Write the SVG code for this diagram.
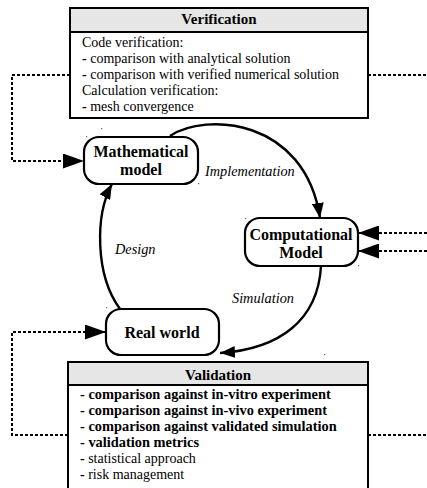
<svg xmlns="http://www.w3.org/2000/svg" width="427" height="488" viewBox="0 0 427 488">
<style>
.box{fill:#fff;stroke:#000;stroke-width:2}
.hdr{fill:#e6e6e6;stroke:#000;stroke-width:2}
.node{fill:#fff;stroke:#000;stroke-width:2.2}
text{font-family:'Liberation Serif','DejaVu Serif',serif}
.t{font-size:14px;fill:#000}
.b{font-weight:bold}
.vb{font-size:14.4px;font-weight:bold}
.h{font-size:15px;font-weight:bold;text-anchor:middle}
.n{font-size:16px;font-weight:bold;text-anchor:middle}
.i{font-size:14.3px;font-style:italic}
.arc{fill:none;stroke:#000;stroke-width:2.4}
.dash{fill:none;stroke:#000;stroke-width:2;stroke-dasharray:3 2}
.dot{fill:#666}
</style>
<defs>
<marker id="ah" markerUnits="userSpaceOnUse" markerWidth="16" markerHeight="12" refX="15" refY="6" orient="auto">
<path d="M0,0 L15,6 L0,12 Z" fill="#000" stroke="none"/>
</marker>
<marker id="dh" markerUnits="userSpaceOnUse" markerWidth="22" markerHeight="15" refX="21" refY="7.5" orient="auto">
<path d="M0,0 L21,7.5 L0,15 Z" fill="#000" stroke="none"/>
</marker>
</defs>

<g id="connectors">
<path class="arc" d="M170,136 C205,112 305,118 320,218" marker-end="url(#ah)"/>
<path class="arc" d="M321,266 C318,320 280,349 220,353" marker-end="url(#ah)"/>
<path class="arc" d="M120,309 C95,275 95,215 112,184" marker-end="url(#ah)"/>
<path class="dash" d="M70,75 H12 V161 H84" marker-end="url(#dh)"/>
<path class="dash" d="M368,75 H427"/>
<path class="dash" d="M427,233 H358" marker-end="url(#dh)"/>
<path class="dash" d="M427,251 H358" marker-end="url(#dh)"/>
<path class="dash" d="M68,435 H12 V332 H106" marker-end="url(#dh)"/>
<path class="dash" d="M368,435 H427"/>
<text class="i" x="205" y="176">Implementation</text>
<text class="i" x="115" y="254">Design</text>
<text class="i" x="232" y="303">Simulation</text>
</g>

<g id="verification">
<rect class="box" x="70" y="8" width="298" height="110"/>
<rect class="hdr" x="70" y="8" width="298" height="24"/>
<text class="h" x="219" y="24">Verification</text>
<text class="t" x="82" y="47">Code verification:</text>
<text class="t" x="82" y="63"><tspan class="b">-</tspan> comparison with analytical solution</text>
<text class="t" x="82" y="79"><tspan class="b">-</tspan> comparison with verified numerical solution</text>
<text class="t" x="82" y="95">Calculation verification:</text>
<text class="t" x="82" y="111"><tspan class="b">-</tspan> mesh convergence</text>
</g>

<g id="mathematical-model">
<rect class="node" x="84" y="137" width="114" height="47" rx="15"/>
<text class="n" x="141" y="157">Mathematical</text>
<text class="n" x="141" y="175">model</text>
</g>

<g id="computational-model">
<rect class="node" x="245" y="218" width="113" height="48" rx="15"/>
<text class="n" x="301" y="240">Computational</text>
<text class="n" x="301" y="258">Model</text>
</g>

<g id="real-world">
<rect class="node" x="106" y="309" width="113" height="46" rx="15"/>
<text class="n" x="162" y="338">Real world</text>
</g>

<g id="validation">
<rect class="box" x="68" y="362" width="300" height="130"/>
<rect class="hdr" x="68" y="362" width="300" height="23"/>
<text class="h" x="218" y="380">Validation</text>
<text class="vb" x="80" y="399">- comparison against in-vitro experiment</text>
<text class="vb" x="80" y="415">- comparison against in-vivo experiment</text>
<text class="vb" x="80" y="431">- comparison against validated simulation</text>
<text class="vb" x="80" y="447">- validation metrics</text>
<text class="t" x="80" y="463"><tspan class="b">-</tspan> statistical approach</text>
<text class="t" x="80" y="479"><tspan class="b">-</tspan> risk management</text>
</g>

<g id="specks">
<rect class="dot" x="101" y="128" width="1.2" height="1.2"/>
<rect class="dot" x="86" y="136" width="1.2" height="1.2"/>
<rect class="dot" x="198" y="183" width="1.2" height="1.2"/>
<rect class="dot" x="245" y="218" width="1.2" height="1.2"/>
<rect class="dot" x="358" y="265" width="1.2" height="1.2"/>
<rect class="dot" x="106" y="307" width="1.2" height="1.2"/>
<rect class="dot" x="324" y="354" width="1.2" height="1.2"/>
</g>
</svg>
